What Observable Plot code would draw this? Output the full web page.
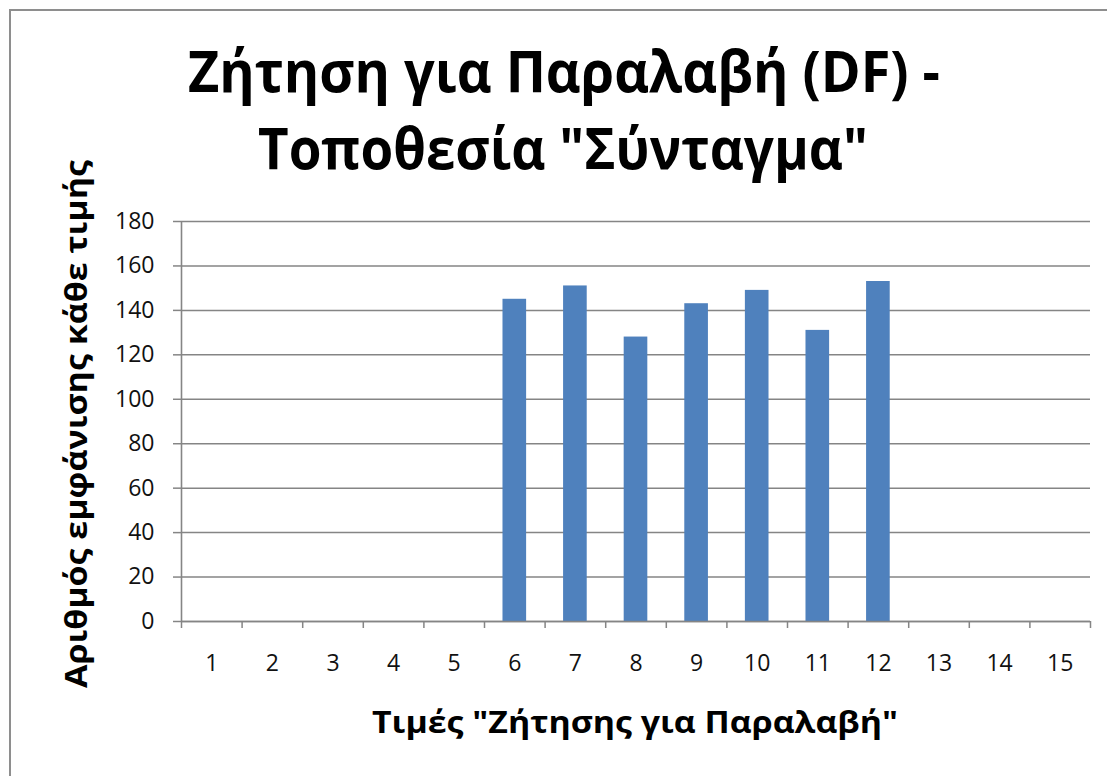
<!DOCTYPE html>
<html>
<head>
<meta charset="utf-8">
<script src="https://cdn.jsdelivr.net/npm/d3@7"></script>
<script src="https://cdn.jsdelivr.net/npm/@observablehq/plot@0.6"></script>
<style>
  html, body { margin: 0; padding: 0; background: #fff; }
  #wrap { position: relative; width: 1107px; height: 776px; overflow: hidden; background: #fff; font-family: "Open Sans", "Noto Sans", sans-serif; }
  #frame { position: absolute; left: 9px; top: 9px; width: 1300px; height: 1000px; border: 2px solid #8e8e8e; box-sizing: border-box; }
  #chart, #titles { position: absolute; left: 0; top: 0; }
  #titles { pointer-events: none; }
</style>
</head>
<body>
<div id="wrap">
  <div id="frame"></div>
  <div id="chart"></div>
  <svg id="titles" width="1107" height="776"></svg>
</div>
<script>
// ---- data ----
const categories = [1, 2, 3, 4, 5, 6, 7, 8, 9, 10, 11, 12, 13, 14, 15];
const counts = [0, 0, 0, 0, 0, 145, 151, 128, 143, 149, 131, 153, 0, 0, 0];
const yTicks = [0, 20, 40, 60, 80, 100, 120, 140, 160, 180];
const boundaries = [0.5, 1.5, 2.5, 3.5, 4.5, 5.5, 6.5, 7.5, 8.5, 9.5, 10.5, 11.5, 12.5, 13.5, 14.5, 15.5];
const titleLines = ["Ζήτηση για Παραλαβή (DF) -", "Τοποθεσία \"Σύνταγμα\""];
const xTitle = "Τιμές \"Ζήτησης για Παραλαβή\"";
const yTitle = "Αριθμός εμφάνισης κάθε τιμής";

const table = categories.map((c, i) => ({ c, n: counts[i] }));
const gray = "#858585";
const halfBar = 0.195;

const chart = Plot.plot({
  width: 1107,
  height: 776,
  marginLeft: 181,
  marginRight: 17,
  marginTop: 221,
  marginBottom: 155,
  style: { fontFamily: "'Open Sans', 'Noto Sans', sans-serif", background: "transparent", color: "#111" },
  x: { type: "linear", domain: [0.5, 15.5] },
  y: { domain: [0, 180] },
  marks: [
    Plot.gridY(yTicks, { stroke: gray, strokeOpacity: 1, strokeWidth: 1.5 }),
    Plot.rectY(table, { x1: d => d.c - halfBar, x2: d => d.c + halfBar, y: "n", fill: "#4F81BD" }),
    Plot.ruleX([0.5], { stroke: gray, strokeWidth: 1.6 }),
    Plot.ruleY([0], { stroke: gray, strokeWidth: 1.6 }),
    Plot.axisY({ ticks: yTicks, tickSize: 8, tickPadding: 19, stroke: gray, strokeWidth: 1.5, fontSize: 23, label: null, fill: "#111" }),
    Plot.axisX({ ticks: boundaries, tickSize: 7, tickFormat: () => "", stroke: gray, strokeWidth: 1.5, label: null }),
    Plot.axisX({ ticks: categories, tickSize: 0, tickPadding: 33, fontSize: 23, label: null, fill: "#111", tickFormat: d => String(d) })
  ]
});
document.getElementById("chart").appendChild(chart);

// ---- titles ----
const t = d3.select("#titles");
const font = "'Open Sans', 'Noto Sans', sans-serif";
function addText(str, x, y, len, size, rotate) {
  const el = t.append("text")
    .attr("x", x).attr("y", y)
    .attr("font-family", font)
    .attr("font-weight", 700)
    .attr("font-size", size)
    .attr("fill", "#000")
    .attr("textLength", len)
    .attr("lengthAdjust", "spacingAndGlyphs")
    .text(str);
  if (rotate) el.attr("transform", `rotate(-90, ${x}, ${y})`);
  return el;
}
addText(titleLines[0], 188, 92, 752, 58);
addText(titleLines[1], 258, 169, 610, 58);
addText(xTitle, 372, 733, 526, 31);
addText(yTitle, 87, 688, 528, 31, true);
</script>
</body>
</html>
